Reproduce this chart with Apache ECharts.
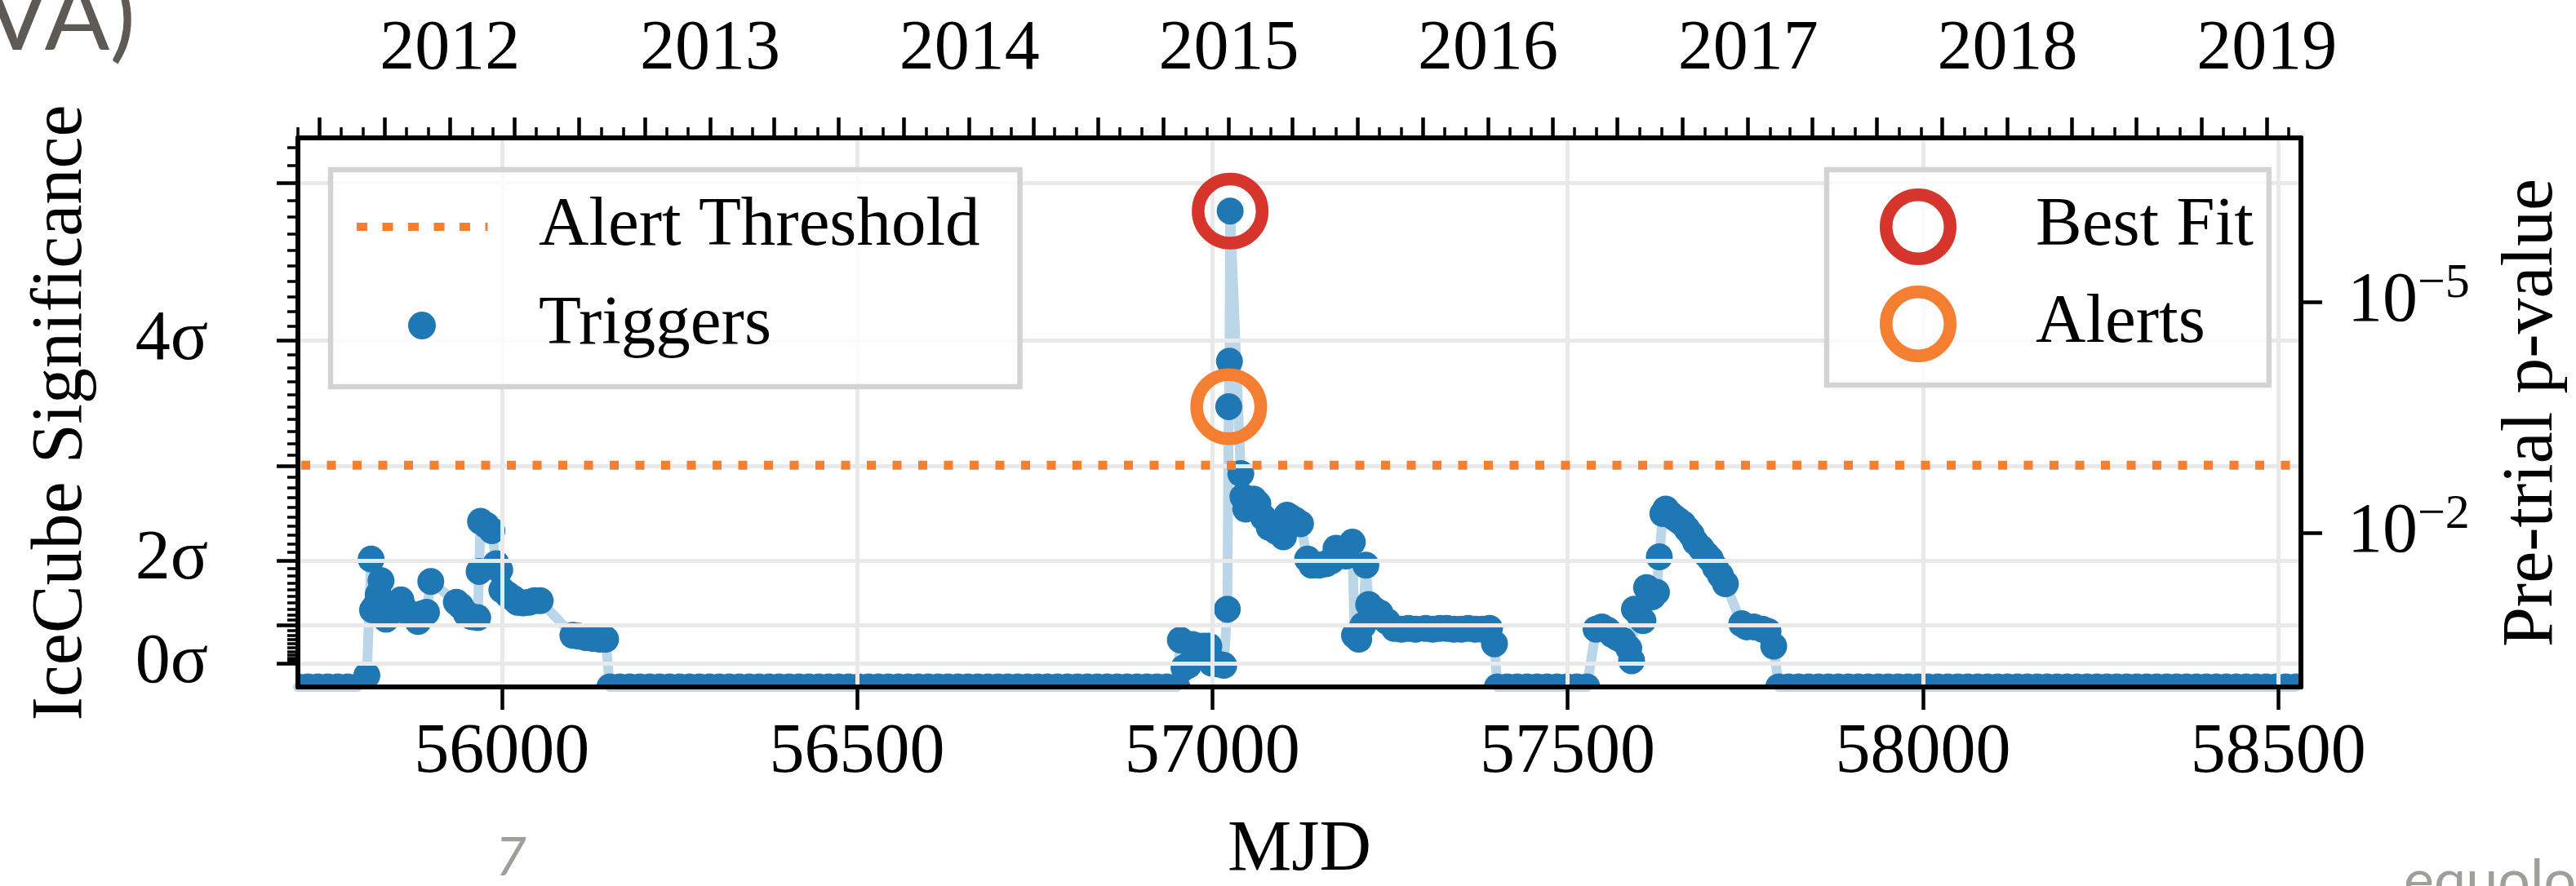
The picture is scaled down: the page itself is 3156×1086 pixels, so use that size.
<!DOCTYPE html>
<html><head><meta charset="utf-8">
<script src="https://cdn.jsdelivr.net/npm/echarts@6/dist/echarts.min.js"></script>
<style>html,body{margin:0;padding:0;background:#fff}#c{width:3156px;height:1086px}</style>
</head><body><div id="c"></div>
<script>
// ---------------- DATA (MJD, -log10 pre-trial p-value) ----------------
const quiet2011 = [[55713,0],[55727,0],[55741,0],[55755,0],[55769,0],[55783,0],[55797,0],[55810,0.15]];
const flare2012 = [[55816,1.66],[55818,1.00],[55822,1.05],[55826,1.20],[55830,1.38],[55834,1.10],[55837,0.88],[55842,1.00],[55847,1.05],[55852,1.02],[55858,1.13],[55864,1.00],[55870,0.95],[55876,0.93],[55882,0.85],[55888,0.95],[55894,0.97],[55900,1.37],[55936,1.10],[55942,1.05],[55950,0.95],[55958,0.91],[55966,0.90],[55968,1.50],[55970,2.15],[55978,2.10],[55986,2.03],[55992,1.60],[55997,1.52],[56000,1.26],[56008,1.20],[56016,1.15],[56022,1.10],[56030,1.09],[56038,1.10],[56046,1.12],[56054,1.12],[56100,0.67],[56108,0.66],[56118,0.64],[56128,0.63],[56138,0.62],[56146,0.62]];
const quiet2013 = [[56152,0],[56166,0],[56180,0],[56194,0],[56208,0],[56222,0],[56236,0],[56250,0],[56264,0],[56278,0],[56292,0],[56306,0],[56320,0],[56334,0],[56348,0],[56362,0],[56376,0],[56390,0],[56404,0],[56418,0],[56432,0],[56446,0],[56460,0],[56474,0],[56488,0],[56502,0],[56516,0],[56530,0],[56544,0],[56558,0],[56572,0],[56586,0],[56600,0],[56614,0],[56628,0],[56642,0],[56656,0],[56670,0],[56684,0],[56698,0],[56712,0],[56726,0],[56740,0],[56754,0],[56768,0],[56782,0],[56796,0],[56810,0],[56824,0],[56838,0],[56852,0],[56866,0],[56880,0],[56894,0],[56908,0],[56922,0],[56936,0],[56950,0]];
const flare2015 = [[56955,0.61],[56960,0.25],[56966,0.28],[56972,0.55],[56980,0.53],[56988,0.53],[56995,0.53],[56999,0.31],[57008,0.30],[57016,0.28],[57021,1.01],[57023,3.64],[57024,4.23],[57025,6.18],[57040,2.77],[57043,2.47],[57047,2.31],[57052,2.40],[57058,2.44],[57064,2.38],[57072,2.20],[57080,2.07],[57090,2.02],[57100,1.95],[57105,2.23],[57110,2.20],[57116,2.17],[57124,2.12],[57134,1.66],[57140,1.58],[57150,1.58],[57160,1.60],[57168,1.64],[57174,1.80],[57181,1.72],[57188,1.70],[57197,1.88],[57200,0.67],[57206,0.62],[57212,0.80],[57216,1.58],[57220,1.07],[57228,1.00],[57236,0.96],[57246,0.85],[57256,0.76],[57266,0.75],[57276,0.76],[57286,0.75],[57300,0.76],[57310,0.75],[57320,0.76],[57330,0.76],[57340,0.75],[57350,0.75],[57360,0.76],[57370,0.75],[57380,0.75],[57390,0.76],[57397,0.56]];
const quiet2016 = [[57401,0],[57415,0],[57429,0],[57443,0],[57457,0],[57471,0],[57485,0],[57499,0],[57513,0],[57527,0]];
const flare2016 = [[57540,0.75],[57548,0.78],[57556,0.74],[57563,0.68],[57570,0.64],[57578,0.60],[57586,0.50],[57590,0.34],[57594,1.01],[57600,0.95],[57606,0.86],[57611,1.29],[57615,1.25],[57619,1.17],[57625,1.23],[57629,1.69],[57634,2.25],[57638,2.31],[57644,2.25],[57650,2.20],[57656,2.16],[57662,2.12],[57668,2.05],[57674,1.98],[57680,1.88],[57688,1.80],[57695,1.72],[57701,1.66],[57708,1.55],[57715,1.45],[57722,1.34],[57745,0.82],[57752,0.78],[57762,0.78],[57774,0.75],[57782,0.72],[57790,0.53]];
const quiet2018 = [[57797,0],[57811,0],[57825,0],[57839,0],[57853,0],[57867,0],[57881,0],[57895,0],[57909,0],[57923,0],[57937,0],[57951,0],[57965,0],[57979,0],[57993,0],[58007,0],[58021,0],[58035,0],[58049,0],[58063,0],[58077,0],[58091,0],[58105,0],[58119,0],[58133,0],[58147,0],[58161,0],[58175,0],[58189,0],[58203,0],[58217,0],[58231,0],[58245,0],[58259,0],[58273,0],[58287,0],[58301,0],[58315,0],[58329,0],[58343,0],[58357,0],[58371,0],[58385,0],[58399,0],[58413,0],[58427,0],[58441,0],[58455,0],[58469,0],[58483,0],[58497,0],[58511,0],[58525,0]];
const bestFit = [[57025, 6.18]];
const alerts = [[57023, 3.64]];
const alertThreshold = 2.88;

// axis ticks / labels
const xTicksMJD = [56000, 56500, 57000, 57500, 58000, 58500];
const yearLabels = ['2012','2013','2014','2015','2016','2017','2018','2019'];
const sigmaMajor = [0, 1, 2, 3, 4, 5];
const sigmaLabelValues = [0, 2, 4];
const sigmaLabels = ['0σ', '2σ', '4σ'];
const pValueExponents = [-5, -2];

// ---------------- helpers ----------------
const FONT = 'Liberation Serif';
const BLUE = '#1f77b4', RED = '#d5352b', ORANGE = '#f47f30', GRID = '#e9e9e9';
const xMin = 55713, xMax = 58532, yMin = 0, yMax = 7.13;

function erfc(x) {
  const z = Math.abs(x), t = 1 / (1 + 0.5 * z);
  const r = t * Math.exp(-z*z - 1.26551223 + t*(1.00002368 + t*(0.37409196 + t*(0.09678418 + t*(-0.18628806 + t*(0.27886807 + t*(-1.13520398 + t*(1.48851587 + t*(-0.82215223 + t*0.17087277)))))))));
  return x >= 0 ? r : 2 - r;
}
function sigmaToLogP(s) { return -Math.log10(0.5 * erfc(s / Math.SQRT2)); }

const sigmaMajorPos = sigmaMajor.map(sigmaToLogP);
const sigmaLabelPos = sigmaLabelValues.map(sigmaToLogP);
const sigmaMinorPos = [];
for (let i = 1; i <= 52; i++) { if (i % 10 !== 0) sigmaMinorPos.push(sigmaToLogP(i / 10)); }

const pPos = pValueExponents.map(e => -e);

function mjdOf(y, m) { return Date.UTC(y, m, 1) / 86400000 + 40587; }
const quarterTicks = [], monthTicks = [];
for (let y = 2011; y <= 2019; y++) for (let m = 0; m < 12; m++) {
  const d = mjdOf(y, m);
  if (d >= xMin && d <= xMax) (m % 3 === 0 ? quarterTicks : monthTicks).push(d);
}
const yearTickMJD = yearLabels.map(y => mjdOf(+y, 0));

const triggers = [].concat(quiet2011, flare2012, quiet2013, flare2015, quiet2016, flare2016, quiet2018);

const axisBlack = { color: '#000', width: 6 };
const lblStyle = { fontFamily: FONT, fontSize: 86, color: '#000' };

// legend icons (bounding box = whole icon cell, so nothing gets rescaled)
const ICON_DOTS = 'path://M0,0 M218,100 M0,45h13v10h-13z M31.5,45h13v10h-13z M63,45h13v10h-13z M94.5,45h13v10h-13z M126,45h13v10h-13z M157.5,45h3v10h-3z';
const ICON_DOT = 'path://M0,0 M218,100 M63,50 a17,17 0 1,0 34,0 a17,17 0 1,0 -34,0 z';
const ICON_RING = 'path://M0,0 M219,100 M40.75,50 a39.25,39.25 0 1,0 78.5,0 a39.25,39.25 0 1,0 -78.5,0 z';

const chart = echarts.init(document.getElementById('c'), null, { renderer: 'canvas' });
chart.setOption({
  animation: false,
  backgroundColor: '#fff',
  textStyle: { fontFamily: FONT },
  grid: { left: 365, right: 337, top: 169, bottom: 244, containLabel: false },
  xAxis: [
    { type: 'value', position: 'bottom', min: xMin, max: xMax, z: 10,
      axisLine: { onZero: false, lineStyle: axisBlack },
      axisTick: { customValues: xTicksMJD, length: 28, lineStyle: { color: '#000', width: 4.5 } },
      axisLabel: Object.assign({ customValues: xTicksMJD, margin: 38, formatter: v => String(Math.round(v)) }, lblStyle),
      splitLine: { show: true, lineStyle: { color: GRID, width: 5 } } },
    { type: 'value', position: 'top', min: xMin, max: xMax, z: 10,
      axisLine: { onZero: false, lineStyle: axisBlack },
      axisTick: { customValues: quarterTicks, length: 25, lineStyle: { color: '#000', width: 4.5 } },
      axisLabel: Object.assign({ customValues: yearTickMJD, margin: 65,
        formatter: v => { const i = yearTickMJD.findIndex(d => Math.abs(d - v) < 0.5); return i >= 0 ? yearLabels[i] : ''; } }, lblStyle),
      splitLine: { show: false } },
    { type: 'value', position: 'top', min: xMin, max: xMax, z: 10,
      axisLine: { show: false, onZero: false },
      axisTick: { customValues: monthTicks, length: 13, lineStyle: { color: '#000', width: 3.5 } },
      axisLabel: { show: false }, splitLine: { show: false } }
  ],
  yAxis: [
    { type: 'value', position: 'left', min: yMin, max: yMax, z: 10,
      axisLine: { onZero: false, lineStyle: axisBlack },
      axisTick: { customValues: sigmaMajorPos, length: 26, lineStyle: { color: '#000', width: 4.5 } },
      axisLabel: Object.assign({ customValues: sigmaLabelPos, margin: 110, align: 'right', verticalAlign: 'middle',
        formatter: v => { const i = sigmaLabelPos.findIndex(p => Math.abs(p - v) < 1e-6); return i >= 0 ? sigmaLabels[i] : ''; } }, lblStyle),
      splitLine: { show: true, lineStyle: { color: GRID, width: 5 } } },
    { type: 'value', position: 'left', min: yMin, max: yMax, z: 10,
      axisLine: { show: false, onZero: false },
      axisTick: { customValues: sigmaMinorPos, length: 13, lineStyle: { color: '#000', width: 3.5 } },
      axisLabel: { show: false }, splitLine: { show: false } },
    { type: 'value', position: 'right', min: yMin, max: yMax, z: 10,
      axisLine: { onZero: false, lineStyle: axisBlack },
      axisTick: { customValues: pPos, length: 26, lineStyle: { color: '#000', width: 4.5 } },
      axisLabel: { customValues: pPos, margin: 57, align: 'left',
        formatter: v => '{b|10}{s|\u2212' + Math.round(v) + '}',
        rich: { b: { fontFamily: FONT, fontSize: 86, lineHeight: 104, color: '#000' },
                s: { fontFamily: FONT, fontSize: 60, lineHeight: 60, color: '#000', verticalAlign: 'top' } } },
      splitLine: { show: false } }
  ],
  legend: [
    { show: true, selectedMode: false, orient: 'vertical', align: 'left', left: 405, top: 208, z: 20,
      padding: [20, 49, 25, 32], itemWidth: 218, itemHeight: 100, itemGap: 21, symbolKeepAspect: true,
      backgroundColor: 'rgba(255,255,255,0.8)', borderColor: '#d3d3d3', borderWidth: 6.5, borderRadius: 0,
      textStyle: { fontFamily: FONT, fontSize: 85, color: '#000', lineHeight: 100 },
      data: [
        { name: 'Alert Threshold', icon: ICON_DOTS, itemStyle: { color: ORANGE, borderWidth: 0 } },
        { name: 'Triggers', icon: ICON_DOT, itemStyle: { color: BLUE, borderWidth: 0 } }
      ] },
    { show: true, selectedMode: false, orient: 'vertical', align: 'left', left: 2238, top: 208, z: 20,
      padding: [12.25, 19, 17.25, 24.25], itemWidth: 219, itemHeight: 100, itemGap: 3.5, symbolKeepAspect: true,
      backgroundColor: 'rgba(255,255,255,0.8)', borderColor: '#d3d3d3', borderWidth: 6.5, borderRadius: 0,
      textStyle: { fontFamily: FONT, fontSize: 85, color: '#000', lineHeight: 100 },
      data: [
        { name: 'Best Fit', icon: ICON_RING, itemStyle: { color: 'rgba(0,0,0,0)', borderColor: RED, borderWidth: 15.5 } },
        { name: 'Alerts', icon: ICON_RING, itemStyle: { color: 'rgba(0,0,0,0)', borderColor: ORANGE, borderWidth: 15.5 } }
      ] }
  ],
  series: [
    { type: 'line', name: 'Trigger trace', xAxisIndex: 0, yAxisIndex: 0, data: triggers, z: 1,
      showSymbol: false, symbol: 'none', clip: true, silent: true,
      lineStyle: { color: 'rgba(31,119,180,0.3)', width: 12, join: 'round', cap: 'round' } },
    { type: 'custom', name: 'Triggers', xAxisIndex: 0, yAxisIndex: 0, data: triggers, z: 2, clip: true, silent: true,
      encode: { x: 0, y: 1 }, itemStyle: { color: BLUE },
      renderItem: (params, api) => {
        const p = api.coord([api.value(0), api.value(1)]);
        return { type: 'circle', shape: { cx: p[0], cy: p[1], r: 16.5 }, style: { fill: BLUE } };
      } },
    { type: 'custom', name: 'Alert Threshold', xAxisIndex: 0, yAxisIndex: 0, data: [[xMin, alertThreshold]], z: 11, clip: true, silent: true,
      encode: { x: 0, y: 1 }, itemStyle: { color: ORANGE },
      renderItem: (params, api) => {
        const cs = params.coordSys;
        const y = api.coord([api.value(0), api.value(1)])[1];
        return { type: 'line', shape: { x1: cs.x, y1: y, x2: cs.x + cs.width, y2: y },
          style: { stroke: ORANGE, lineWidth: 11, lineDash: [11, 20.5], lineCap: 'butt', lineDashOffset: -4 } };
      } },
    { type: 'scatter', name: 'Best Fit', xAxisIndex: 0, yAxisIndex: 0, data: bestFit, z: 12, silent: true,
      symbol: 'circle', symbolSize: 78.5,
      itemStyle: { color: 'rgba(0,0,0,0)', borderColor: RED, borderWidth: 15.5, opacity: 1 } },
    { type: 'scatter', name: 'Alerts', xAxisIndex: 0, yAxisIndex: 0, data: alerts, z: 12, silent: true,
      symbol: 'circle', symbolSize: 78.5,
      itemStyle: { color: 'rgba(0,0,0,0)', borderColor: ORANGE, borderWidth: 15.5, opacity: 1 } }
  ],
  graphic: [
    { type: 'text', x: 76, y: 506, rotation: Math.PI / 2, z: 30,
      style: { text: 'IceCube Significance', fontFamily: FONT, fontSize: 88, fill: '#000', align: 'center', verticalAlign: 'middle' } },
    { type: 'text', x: 3103, y: 506, rotation: Math.PI / 2, z: 30,
      style: { text: 'Pre-trial p-value', fontFamily: FONT, fontSize: 88, fill: '#000', align: 'center', verticalAlign: 'middle' } },
    { type: 'text', x: 1592, y: 1043, z: 30,
      style: { text: 'MJD', fontFamily: FONT, fontSize: 88, fill: '#000', align: 'center', verticalAlign: 'middle' } },
    { type: 'text', x: 166, y: 82, z: 30,
      style: { text: 'VA)', fontFamily: 'Lato', fontWeight: 400, fontSize: 118, fill: '#5d5955', align: 'right', verticalAlign: 'bottom' } },
    { type: 'text', x: 626, y: 1052, z: 30,
      style: { text: '7', fontFamily: 'Lato', fontStyle: 'italic', fontWeight: 400, fontSize: 66, fill: '#a19e99', align: 'center', verticalAlign: 'middle' } },
    { type: 'text', x: 2945, y: 1115, z: 30,
      style: { text: 'equolo', fontFamily: 'Lato', fontWeight: 400, fontSize: 70, fill: '#a19e99', align: 'left', verticalAlign: 'bottom' } }
  ]
});
</script></body></html>
